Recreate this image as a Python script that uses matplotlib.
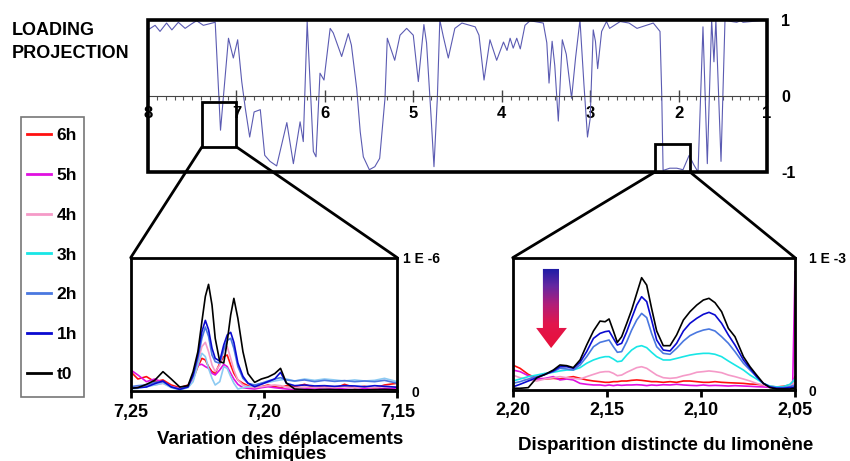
import numpy as np
import matplotlib
matplotlib.use("Agg")
import matplotlib.pyplot as plt
from matplotlib.patches import Rectangle, ConnectionPatch, Polygon
from matplotlib.colors import LinearSegmentedColormap
from matplotlib.ticker import MultipleLocator, FixedLocator, FuncFormatter

plt.rcParams['font.family'] = ['Liberation Sans', 'DejaVu Sans']
plt.rcParams['font.weight'] = 'bold'

# ---------------- loading projection over the whole spectrum ----------------
loading_ppm = [8.00, 7.92, 7.864, 7.79, 7.73, 7.657, 7.58, 7.506, 7.45, 7.374,
               7.24, 7.18, 7.09, 7.035, 6.986, 6.94, 6.90, 6.85, 6.80, 6.73,
               6.68, 6.62, 6.545, 6.43, 6.356, 6.28, 6.244, 6.20, 6.13, 6.10,
               6.055, 6.01, 5.94, 5.905, 5.81, 5.735, 5.70, 5.64, 5.60, 5.565,
               5.497, 5.435, 5.38, 5.32, 5.294, 5.21, 5.15, 5.075, 5.00, 4.943,
               4.88, 4.85, 4.80, 4.766, 4.728, 4.70, 4.66, 4.604, 4.53, 4.45,
               4.30, 4.257, 4.20, 4.133, 4.057, 3.98, 3.94, 3.905, 3.87, 3.83,
               3.79, 3.737, 3.68, 3.53, 3.49, 3.465, 3.43, 3.40, 3.36, 3.315,
               3.27, 3.21, 3.165, 3.115, 3.07, 3.03, 3.00, 2.965, 2.94, 2.915,
               2.87, 2.815, 2.78, 2.66, 2.56, 2.47, 2.286, 2.21, 2.19, 2.175,
               2.10, 2.02, 1.95, 1.88, 1.83, 1.78, 1.724, 1.675, 1.626, 1.60,
               1.578, 1.52, 1.475, 1.40, 1.343, 1.30, 1.27, 1.00]
loading_val = [0.87, 0.93, 0.85, 0.96, 0.87, 0.97, 0.89, 0.95, 0.99, 0.93,
               0.97, -0.45, 0.76, 0.50, 0.74, 0.19, -0.16, -0.54, -0.21, -0.18,
               -0.78, -0.86, -0.92, -0.35, -0.89, -0.34, -0.60, 0.98, -0.73, -0.80,
               0.30, 0.21, 0.89, 0.83, 0.52, 0.82, 0.67, 0.10, -0.47, -0.80,
               -0.97, -0.93, -0.82, -0.03, 0.76, 0.47, 0.80, 0.89, 0.80, 0.19,
               0.94, 0.70, -0.25, -0.93, -0.03, 1.00, 0.78, 0.50, 0.89, 0.96,
               0.91, 0.80, 0.21, 0.74, 0.47, 0.71, 0.60, 0.76, 0.63, 0.76,
               0.62, 0.93, 0.99, 0.96, 0.70, 0.17, 0.72, 0.40, -0.33, 0.74,
               0.55, -0.03, 0.50, 1.00, 0.15, -0.54, -0.30, 0.87, 0.72, 0.36,
               0.85, 0.98, 0.89, 0.98, 0.96, 0.89, 0.96, 0.85, 0.00, -0.98,
               -0.95, -0.95, -0.97, -0.78, -0.90, -1.00, 0.91, -0.89, 1.00, 0.45,
               1.00, -0.86, 1.00, 0.98, 0.97, 0.99, 0.97, 1.00]

# ---------------- aromatic region, intensity in units of 1E-6 ----------------
arom_ppm = [7.2500, 7.2473, 7.2441, 7.2410, 7.2379, 7.2348, 7.2316, 7.2285, 7.2266, 7.2248,
            7.2233, 7.2220, 7.2208, 7.2195, 7.2183, 7.2166, 7.2151, 7.2138, 7.2125, 7.2113,
            7.2098, 7.2079, 7.2060, 7.2035, 7.2010, 7.1985, 7.1960, 7.1938, 7.1916, 7.1885,
            7.1848, 7.1810, 7.1773, 7.1735, 7.1698, 7.1660, 7.1623, 7.1585, 7.1548, 7.1500]
arom_t0 = [0.020, 0.025, 0.050, 0.080, 0.145, 0.090, 0.030, 0.040, 0.145, 0.295,
           0.520, 0.710, 0.800, 0.645, 0.395, 0.220, 0.210, 0.370, 0.570, 0.695,
           0.545, 0.295, 0.130, 0.065, 0.090, 0.105, 0.130, 0.170, 0.060, 0.015,
           0.010, 0.008, 0.012, 0.010, 0.008, 0.010, 0.008, 0.010, 0.012, 0.008]
arom_1h = [0.020, 0.025, 0.030, 0.055, 0.075, 0.030, 0.012, 0.030, 0.120, 0.270,
           0.445, 0.530, 0.460, 0.320, 0.245, 0.225, 0.345, 0.420, 0.440, 0.365,
           0.210, 0.110, 0.058, 0.032, 0.050, 0.070, 0.090, 0.140, 0.058, 0.040,
           0.045, 0.038, 0.040, 0.035, 0.040, 0.038, 0.032, 0.040, 0.035, 0.028]
arom_2h = [0.032, 0.040, 0.045, 0.065, 0.070, 0.032, 0.015, 0.040, 0.108, 0.245,
           0.395, 0.480, 0.410, 0.270, 0.220, 0.208, 0.310, 0.380, 0.395, 0.320,
           0.183, 0.095, 0.058, 0.045, 0.058, 0.075, 0.090, 0.100, 0.083, 0.075,
           0.083, 0.070, 0.080, 0.072, 0.078, 0.070, 0.075, 0.070, 0.080, 0.058]
arom_3h = [0.015, 0.020, 0.032, 0.045, 0.058, 0.025, 0.008, 0.025, 0.070, 0.195,
           0.283, 0.258, 0.170, 0.095, 0.045, 0.070, 0.183, 0.170, 0.108, 0.058,
           0.015, 0.025, 0.032, 0.040, 0.058, 0.065, 0.075, 0.083, 0.090, 0.075,
           0.090, 0.080, 0.090, 0.083, 0.075, 0.083, 0.075, 0.080, 0.095, 0.070]
arom_4h = [0.025, 0.032, 0.040, 0.045, 0.058, 0.032, 0.015, 0.032, 0.095, 0.220,
           0.333, 0.365, 0.295, 0.195, 0.145, 0.195, 0.308, 0.333, 0.245, 0.158,
           0.083, 0.045, 0.032, 0.025, 0.032, 0.040, 0.045, 0.040, 0.030, 0.025,
           0.030, 0.025, 0.030, 0.025, 0.032, 0.025, 0.030, 0.025, 0.035, 0.030]
arom_5h = [0.158, 0.120, 0.070, 0.090, 0.065, 0.032, 0.020, 0.032, 0.120, 0.195,
           0.200, 0.183, 0.170, 0.133, 0.120, 0.158, 0.200, 0.183, 0.133, 0.090,
           0.050, 0.025, 0.020, 0.015, 0.025, 0.032, 0.025, 0.020, 0.015, 0.010,
           0.015, 0.020, 0.012, 0.020, 0.015, 0.010, 0.018, 0.012, 0.020, 0.015]
arom_6h = [0.145, 0.090, 0.108, 0.070, 0.083, 0.045, 0.025, 0.045, 0.090, 0.183,
           0.245, 0.233, 0.183, 0.145, 0.133, 0.208, 0.258, 0.270, 0.195, 0.133,
           0.083, 0.058, 0.040, 0.025, 0.032, 0.045, 0.032, 0.025, 0.040, 0.032,
           0.050, 0.025, 0.035, 0.020, 0.050, 0.025, 0.035, 0.020, 0.045, 0.058]

# ---------------- limonene region, intensity in units of 1E-3 ----------------
limo_ppm = [2.2000, 2.1961, 2.1917, 2.1872, 2.1828, 2.1784, 2.1749, 2.1713, 2.1678, 2.1642,
            2.1607, 2.1571, 2.1536, 2.1509, 2.1488, 2.1465, 2.1444, 2.1421, 2.1394, 2.1368,
            2.1341, 2.1315, 2.1288, 2.1262, 2.1235, 2.1200, 2.1164, 2.1129, 2.1093, 2.1058,
            2.1022, 2.0987, 2.0957, 2.0925, 2.0890, 2.0854, 2.0819, 2.0774, 2.0739, 2.0704,
            2.0668, 2.0633, 2.0597, 2.0562, 2.0527, 2.0512, 2.0500]
limo_t0 = [0.013, 0.013, 0.018, 0.093, 0.118, 0.151, 0.189, 0.184, 0.169, 0.227,
           0.340, 0.446, 0.521, 0.516, 0.537, 0.446, 0.360, 0.403, 0.504, 0.605,
           0.730, 0.849, 0.793, 0.617, 0.446, 0.335, 0.335, 0.416, 0.529, 0.592,
           0.642, 0.680, 0.693, 0.660, 0.592, 0.466, 0.403, 0.252, 0.176, 0.113,
           0.050, 0.018, 0.008, 0.008, 0.008, 0.013, 0.013]
limo_1h = [0.023, 0.043, 0.068, 0.093, 0.118, 0.144, 0.176, 0.176, 0.164, 0.209,
           0.290, 0.390, 0.428, 0.441, 0.446, 0.390, 0.340, 0.353, 0.441, 0.542,
           0.642, 0.705, 0.668, 0.529, 0.378, 0.302, 0.295, 0.353, 0.446, 0.504,
           0.542, 0.572, 0.587, 0.567, 0.504, 0.416, 0.340, 0.227, 0.164, 0.101,
           0.050, 0.023, 0.013, 0.013, 0.018, 0.020, 0.025]
limo_2h = [0.050, 0.063, 0.083, 0.101, 0.118, 0.139, 0.164, 0.159, 0.151, 0.189,
           0.252, 0.327, 0.360, 0.370, 0.378, 0.327, 0.285, 0.290, 0.365, 0.453,
           0.529, 0.579, 0.547, 0.428, 0.327, 0.277, 0.270, 0.315, 0.370, 0.411,
           0.436, 0.453, 0.461, 0.446, 0.403, 0.353, 0.290, 0.202, 0.151, 0.101,
           0.050, 0.025, 0.018, 0.018, 0.025, 0.033, 0.038]
limo_3h = [0.068, 0.083, 0.101, 0.113, 0.126, 0.134, 0.144, 0.151, 0.151, 0.169,
           0.202, 0.227, 0.244, 0.252, 0.252, 0.234, 0.214, 0.219, 0.264, 0.302,
           0.327, 0.335, 0.320, 0.285, 0.252, 0.227, 0.227, 0.239, 0.252, 0.264,
           0.272, 0.277, 0.277, 0.270, 0.252, 0.219, 0.189, 0.151, 0.113, 0.083,
           0.050, 0.030, 0.023, 0.025, 0.043, 0.063, 0.088]
limo_4h = [0.113, 0.093, 0.076, 0.068, 0.083, 0.093, 0.101, 0.093, 0.088, 0.083,
           0.101, 0.118, 0.134, 0.139, 0.139, 0.126, 0.108, 0.113, 0.134, 0.151,
           0.169, 0.176, 0.164, 0.139, 0.113, 0.093, 0.088, 0.093, 0.108, 0.118,
           0.134, 0.139, 0.144, 0.139, 0.131, 0.113, 0.101, 0.083, 0.068, 0.050,
           0.038, 0.025, 0.023, 0.025, 0.033, 0.043, 0.063]
limo_5h = [0.151, 0.139, 0.108, 0.083, 0.088, 0.101, 0.076, 0.083, 0.076, 0.050,
           0.043, 0.038, 0.038, 0.033, 0.038, 0.033, 0.038, 0.035, 0.038, 0.038,
           0.040, 0.038, 0.033, 0.038, 0.035, 0.040, 0.038, 0.043, 0.038, 0.035,
           0.033, 0.038, 0.033, 0.035, 0.033, 0.030, 0.033, 0.030, 0.028, 0.025,
           0.023, 0.020, 0.018, 0.018, 0.020, 0.063, 0.894]
limo_6h = [0.189, 0.164, 0.118, 0.088, 0.083, 0.088, 0.083, 0.093, 0.101, 0.088,
           0.076, 0.068, 0.063, 0.058, 0.058, 0.063, 0.063, 0.068, 0.068, 0.073,
           0.076, 0.073, 0.068, 0.063, 0.063, 0.058, 0.063, 0.058, 0.068, 0.068,
           0.063, 0.058, 0.058, 0.063, 0.058, 0.055, 0.053, 0.050, 0.045, 0.043,
           0.038, 0.028, 0.023, 0.028, 0.038, 0.063, 0.101]

time_labels = ['6h', '5h', '4h', '3h', '2h', '1h', 't0']
time_colors = ['#ff1010', '#e010e0', '#f59ac8', '#18e6e6', '#4a78e0', '#0a0ad0', '#000000']
arom_colors = ['#ff1010', '#e010e0', '#f59ac8', '#8ccaf2', '#4a78e0', '#0a0ad0', '#000000']
arom_series = [arom_6h, arom_5h, arom_4h, arom_3h, arom_2h, arom_1h, arom_t0]
limo_series = [limo_6h, limo_5h, limo_4h, limo_3h, limo_2h, limo_1h, limo_t0]

W, H = 850, 461
fig = plt.figure(figsize=(W / 100, H / 100), dpi=100)
fig.patch.set_facecolor('white')


def frac(x0, y0, x1, y1):
    return [x0 / W, 1 - y1 / H, (x1 - x0) / W, (y1 - y0) / H]


def comma_fmt(v, _pos):
    return f'{v:.2f}'.replace('.', ',')


# ---------------- top panel: loading projection ----------------
ax = fig.add_axes(frac(148, 20, 767, 172))
ax.plot(loading_ppm, loading_val, color='#5b5bb2', lw=0.8, zorder=2)
ax.set_xlim(8, 1)
ax.set_ylim(-1, 1)
for s in ('top', 'left', 'right'):
    ax.spines[s].set_visible(False)
ax.spines['bottom'].set_position(('data', 0))
ax.spines['bottom'].set_linewidth(0.8)
ax.spines['bottom'].set_color('#444444')
ax.add_patch(Rectangle((0, 0), 1, 1, transform=ax.transAxes, fill=False,
                       lw=2.6, ec='black', zorder=5, clip_on=False))
ax.xaxis.set_major_locator(MultipleLocator(1))
ax.xaxis.set_minor_locator(MultipleLocator(0.1))
ax.xaxis.set_major_formatter(FuncFormatter(lambda v, p: f'{v:.0f}'))
ax.tick_params(axis='x', which='major', direction='inout', length=8, width=1,
               labelsize=12, pad=3, color='#444444')
ax.tick_params(axis='x', which='minor', direction='out', length=3, width=0.8,
               color='#555555')
ax.yaxis.tick_right()
ax.set_yticks([-1, 0, 1])
ax.set_yticklabels(['-1', '0', '1'])
ax.tick_params(axis='y', length=0, labelsize=11.5, pad=10)

# zoom boxes in the top panel
box_arom = (7.39, 7.00, -0.67, -0.08)
box_limo = (2.267, 1.871, -1.0, -0.63)
for x0, x1, y0, y1 in (box_arom, box_limo):
    ax.add_patch(Rectangle((x0, y0), x1 - x0, y1 - y0, fill=False, lw=2,
                           ec='black', zorder=6, clip_on=False))

# ---------------- bottom-left panel: aromatic region ----------------
axl = fig.add_axes(frac(130.7, 257.7, 397.3, 391))
for vals, col in zip(arom_series, arom_colors):
    axl.plot(arom_ppm, vals, color=col, lw=1.2)
axl.set_xlim(7.25, 7.15)
axl.set_ylim(0, 1)

# ---------------- bottom-right panel: limonene region ----------------
axr = fig.add_axes(frac(512.7, 257.7, 795, 390))
lines = []
for vals, col, lab in zip(limo_series, time_colors, time_labels):
    ln, = axr.plot(limo_ppm, vals, color=col, lw=1.2, label=lab)
    lines.append(ln)

for a, ticks, top_lab, pads in ((axl, [7.25, 7.20, 7.15], '1 E -6', (10, 4)),
                                (axr, [2.20, 2.15, 2.10, 2.05], '1 E -3', (10, 10))):
    for s in a.spines.values():
        s.set_linewidth(2)
    a.xaxis.set_major_locator(FixedLocator(ticks))
    a.xaxis.set_major_formatter(FuncFormatter(comma_fmt))
    a.tick_params(axis='x', direction='out', length=5, width=2, labelsize=13, pad=4)
    a.yaxis.tick_right()
    a.set_yticks([0, 1])
    a.set_yticklabels(['0', top_lab])
    a.tick_params(axis='y', length=0, labelsize=10)
    for t, p in zip(a.yaxis.get_major_ticks(), pads):
        t.set_pad(p)

# gradient arrow in the limonene panel
arrow_cmap = LinearSegmentedColormap.from_list(
    'fade', [(0.0, '#e8103a'), (0.3, '#e2164c'), (0.55, '#b01e7a'),
             (0.78, '#6428a2'), (1.0, '#1c1ca6')])
grad = np.linspace(0, 1, 256).reshape(-1, 1)
im = axr.imshow(grad, extent=[0.083, 0.192, 0.317, 0.915], transform=axr.transAxes,
                origin='lower', aspect='auto', cmap=arrow_cmap, zorder=4)
arrow_shape = Polygon([(0.107, 0.915), (0.164, 0.915), (0.164, 0.469), (0.192, 0.469),
                       (0.136, 0.317), (0.083, 0.469), (0.107, 0.469)],
                      closed=True, transform=axr.transAxes, fc='none', ec='none')
axr.add_patch(arrow_shape)
im.set_clip_path(arrow_shape)
axr.set_xlim(2.20, 2.05)
axr.set_ylim(0, 1)

# connectors from the zoom boxes to the detail panels
for (x0, x1, y0, y1), a in ((box_arom, axl), (box_limo, axr)):
    for xb, fx in ((x0, 0), (x1, 1)):
        con = ConnectionPatch(xyA=(xb, y0), coordsA=ax.transData,
                              xyB=(fx, 1), coordsB=a.transAxes,
                              color='black', lw=2)
        fig.add_artist(con)

# ---------------- legend (own frame) and titles ----------------
fig.add_artist(Rectangle((20.7 / W, 1 - 397 / H), 63.3 / W, 280 / H,
                         transform=fig.transFigure, fill=False,
                         ec='#777777', lw=1.2))
leg = fig.legend(handles=lines, labels=time_labels, loc='upper left',
                 bbox_to_anchor=(27 / W, 1 - 128 / H), frameon=False,
                 fontsize=12.5, handlelength=1.4, handletextpad=0.3,
                 labelspacing=1.42, borderpad=0, borderaxespad=0)
for ln in leg.get_lines():
    ln.set_linewidth(2)

fig.text(12 / W, 1 - 22 / H, 'LOADING\nPROJECTION', ha='left', va='top',
         fontsize=13, linespacing=1.45)
fig.text(280 / W, 1 - 431 / H, 'Variation des déplacements\nchimiques',
         ha='center', va='top', fontsize=13.5, linespacing=0.82)
fig.text(666 / W, 1 - 445 / H, 'Disparition distincte du limonène',
         ha='center', va='center', fontsize=13.5)

fig.savefig('out.png', dpi=100, facecolor='white')
